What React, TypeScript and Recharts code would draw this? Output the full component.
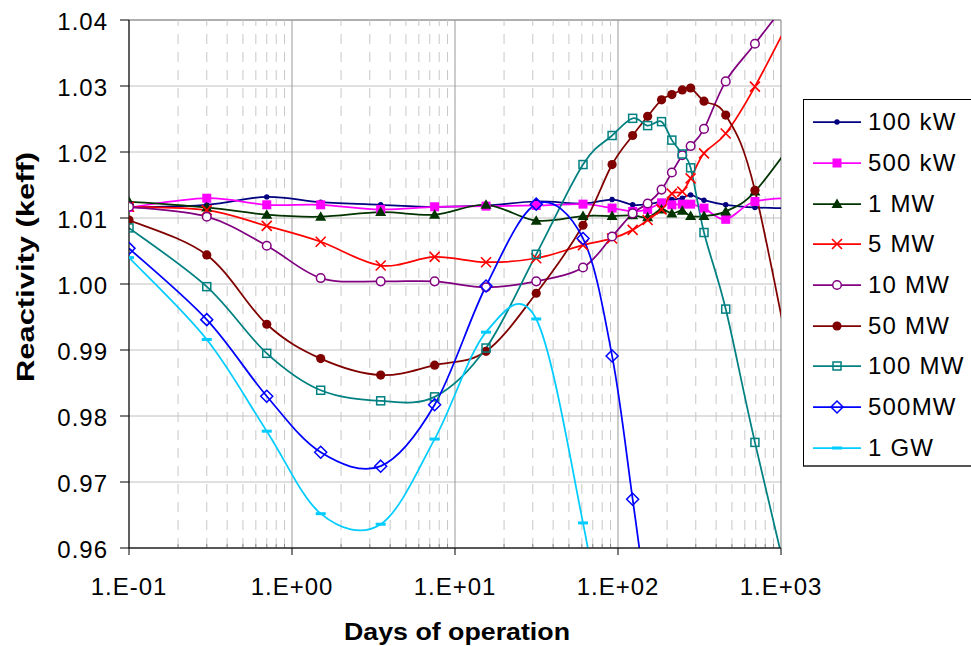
import React from "react";
import {
  LineChart,
  Line,
  XAxis,
  YAxis,
  CartesianGrid,
  ReferenceLine,
  ReferenceArea,
  Legend,
} from "recharts";

const FONT = "'Liberation Sans', Arial, Helvetica, sans-serif";

// sample times (days) shared by all series; last one lies past the axis end
const DAYS = [0.1, 0.3, 0.7, 1.5, 3.5, 7.5, 15.5, 31.5, 61, 92, 123, 152, 185, 214, 248, 279, 337, 458, 692, 1400];

const KW100 = [1.0116, 1.012, 1.0132, 1.0124, 1.012, 1.0117, 1.0119, 1.0125, 1.0122, 1.0128, 1.012, 1.0121, 1.0125, 1.0128, 1.013, 1.0135, 1.0127, 1.012, 1.0116, 1.0114];
const KW500 = [1.0116, 1.013, 1.012, 1.012, 1.0113, 1.0117, 1.0118, 1.0119, 1.0121, 1.0115, 1.011, 1.0113, 1.0123, 1.012, 1.0121, 1.0121, 1.0115, 1.0098, 1.0125, 1.0131];
const MW1 = [1.0125, 1.0116, 1.0105, 1.0102, 1.0109, 1.0105, 1.012, 1.0096, 1.0103, 1.0103, 1.0104, 1.0101, 1.0113, 1.0107, 1.0111, 1.0103, 1.0103, 1.011, 1.014, 1.024];
const MW5 = [1.0117, 1.0112, 1.0088, 1.0064, 1.0028, 1.0041, 1.0033, 1.0039, 1.0059, 1.0069, 1.0082, 1.0097, 1.0113, 1.0137, 1.014, 1.016, 1.0198, 1.0228, 1.0299, 1.0445];
const MW10 = [1.0117, 1.0102, 1.0058, 1.0009, 1.0004, 1.0004, 0.9995, 1.0004, 1.0025, 1.0072, 1.0107, 1.0122, 1.0143, 1.0169, 1.0195, 1.0209, 1.0235, 1.0307, 1.0364, 1.0462];
const MW50 = [1.0097, 1.0044, 0.9939, 0.9887, 0.9862, 0.9877, 0.9898, 0.9986, 1.0089, 1.0181, 1.0225, 1.0254, 1.0279, 1.0287, 1.0294, 1.0297, 1.0277, 1.0256, 1.0142, 0.977];
const MW100 = [1.0085, 0.9996, 0.9895, 0.9839, 0.9823, 0.9829, 0.9903, 1.0045, 1.0181, 1.0225, 1.0251, 1.024, 1.0246, 1.0218, 1.0197, 1.0176, 1.0078, 0.9962, 0.976, 0.944];
const MW500 = [1.0054, 0.9946, 0.983, 0.9745, 0.9724, 0.9817, 0.9997, 1.0121, 1.0069, 0.9891, 0.9674, 0.9506, null, null, null, null, null, null, null, null];
const GW1 = [1.004, 0.9916, 0.9777, 0.9652, 0.9636, 0.9765, 0.9927, 0.9947, 0.9638, 0.938, null, null, null, null, null, null, null, null, null, null];

const X_TICKS = [0.1, 1, 10, 100, 1000];
const X_TICK_LABELS = ["1.E-01", "1.E+00", "1.E+01", "1.E+02", "1.E+03"];
const Y_TICKS = [0.96, 0.97, 0.98, 0.99, 1.0, 1.01, 1.02, 1.03, 1.04];

const SERIES = [
  { name: "100 kW", values: KW100, color: "#000080", marker: "dot" },
  { name: "500 kW", values: KW500, color: "#FF00FF", marker: "square" },
  { name: "1 MW", values: MW1, color: "#003300", marker: "triangle" },
  { name: "5 MW", values: MW5, color: "#FF0000", marker: "cross" },
  { name: "10 MW", values: MW10, color: "#800080", marker: "circle" },
  { name: "50 MW", values: MW50, color: "#800000", marker: "disc" },
  { name: "100 MW", values: MW100, color: "#008080", marker: "openSquare" },
  { name: "500MW", values: MW500, color: "#0000FF", marker: "diamond" },
  { name: "1 GW", values: GW1, color: "#00CCFF", marker: "dash" },
];

// minor (2..9) positions inside each decade, for the dashed grid
const MINOR_X = [0.1, 1, 10, 100].flatMap((d) => [2, 3, 4, 5, 6, 7, 8, 9].map((m) => +(d * m).toPrecision(3)));
const MAJOR_X = [1, 10, 100];

// Excel-like smoothed line (Catmull-Rom through every point)
function excelCurve(context: any) {
  let pts: number[][] = [];
  return {
    areaStart() {},
    areaEnd() {},
    lineStart() {
      pts = [];
    },
    point(x: number, y: number) {
      pts.push([+x, +y]);
    },
    lineEnd() {
      const n = pts.length;
      if (!n) return;
      context.moveTo(pts[0][0], pts[0][1]);
      for (let i = 0; i < n - 1; i++) {
        const p0 = pts[Math.max(i - 1, 0)];
        const p1 = pts[i];
        const p2 = pts[i + 1];
        const p3 = pts[Math.min(i + 2, n - 1)];
        context.bezierCurveTo(
          p1[0] + (p2[0] - p0[0]) / 6,
          p1[1] + (p2[1] - p0[1]) / 6,
          p2[0] - (p3[0] - p1[0]) / 6,
          p2[1] - (p3[1] - p1[1]) / 6,
          p2[0],
          p2[1]
        );
      }
    },
  };
}

function Marker({ kind, x, y, color }: { kind: string; x: number; y: number; color: string }) {
  switch (kind) {
    case "dot":
      return <circle cx={x} cy={y} r={2.7} fill={color} />;
    case "square":
      return <rect x={x - 4.5} y={y - 4.5} width={9} height={9} fill={color} />;
    case "triangle":
      return <polygon points={`${x},${y - 5.5} ${x + 5.5},${y + 4} ${x - 5.5},${y + 4}`} fill={color} />;
    case "cross":
      return (
        <path d={`M${x - 5},${y - 5}L${x + 5},${y + 5}M${x - 5},${y + 5}L${x + 5},${y - 5}`} stroke={color} strokeWidth={1.6} />
      );
    case "circle":
      return <circle cx={x} cy={y} r={4.3} fill="#fff" stroke={color} strokeWidth={1.5} />;
    case "disc":
      return <circle cx={x} cy={y} r={4.6} fill={color} />;
    case "openSquare":
      return <rect x={x - 4} y={y - 4} width={8} height={8} fill="none" stroke={color} strokeWidth={1.5} />;
    case "diamond":
      return (
        <polygon points={`${x},${y - 6} ${x + 6},${y} ${x},${y + 6} ${x - 6},${y}`} fill="none" stroke={color} strokeWidth={1.5} />
      );
    case "dash":
      return <rect x={x - 5} y={y - 1.5} width={10} height={3} fill={color} />;
    default:
      return null;
  }
}

const XTick = ({ x, y, index }: any) => (
  <text x={x} y={y + 40} textAnchor="middle" fontSize={24} letterSpacing={1} fontFamily={FONT} fill="#000">
    {X_TICK_LABELS[index]}
  </text>
);

const YTick = ({ x, y, payload }: any) => (
  <text x={x - 12} y={y + 10} textAnchor="end" fontSize={24} letterSpacing={1} fontFamily={FONT} fill="#000">
    {Number(payload.value).toFixed(2)}
  </text>
);

const XTitle = ({ viewBox }: any) => (
  <text
    x={viewBox.x + viewBox.width / 2 + 2}
    y={viewBox.y + 92}
    textAnchor="middle"
    fontSize={23}
    fontWeight="bold"
    fontFamily={FONT}
    textLength={226}
    lengthAdjust="spacingAndGlyphs"
  >
    Days of operation
  </text>
);

const YTitle = ({ viewBox }: any) => {
  const cx = 34;
  const cy = viewBox.y + viewBox.height / 2 - 17;
  return (
    <text
      x={cx}
      y={cy}
      transform={`rotate(-90 ${cx} ${cy})`}
      textAnchor="middle"
      fontSize={23}
      fontWeight="bold"
      fontFamily={FONT}
      textLength={230}
      lengthAdjust="spacingAndGlyphs"
    >
      Reactivity (keff)
    </text>
  );
};

const renderLegend = () => (
  <div
    style={{
      borderLeft: "1px solid #000",
      borderTop: "1px solid #000",
      borderBottom: "2px solid #555",
      background: "#fff",
      width: 168,
      height: 368,
      boxSizing: "border-box",
      paddingTop: 2,
      fontFamily: FONT,
      overflow: "hidden",
    }}
  >
    {SERIES.map((s) => (
      <div key={s.name} style={{ display: "flex", alignItems: "center", height: 40.7 }}>
        <svg width={60} height={20} style={{ flex: "none" }}>
          <line x1={9} x2={57} y1={10} y2={10} stroke={s.color} strokeWidth={1.75} />
          <Marker kind={s.marker} x={33} y={10} color={s.color} />
        </svg>
        <span style={{ fontSize: 24, letterSpacing: 1.2, marginLeft: 4, color: "#000", whiteSpace: "nowrap" }}>{s.name}</span>
      </div>
    ))}
  </div>
);

export default function App() {
  const lines = SERIES.map((s) => ({
    ...s,
    rows: DAYS.map((d, i) => ({ day: d, v: s.values[i] })).filter((r) => r.v != null),
  }));

  return (
    <div style={{ position: "absolute", left: 0, top: 0, width: 971, height: 646, overflow: "hidden", background: "#fff" }}>
      <LineChart width={971} height={646} margin={{ top: 20, right: 190, bottom: 0, left: 0 }}>
        <CartesianGrid vertical={false} stroke="#c0c0c0" />
        {MINOR_X.map((v) => (
          <ReferenceLine key={`m${v}`} x={v} stroke="#c8c8c8" strokeDasharray="10 8" />
        ))}
        {MAJOR_X.map((v) => (
          <ReferenceLine key={`M${v}`} x={v} stroke="#999" />
        ))}
        {MINOR_X.map((v) => (
          <ReferenceLine
            key={`t${v}`}
            segment={[
              { x: v, y: 0.96 },
              { x: v, y: 0.9606 },
            ]}
            stroke="#888"
          />
        ))}
        <ReferenceArea x1={0.1} x2={1000} y1={0.96} y2={1.04} fill="none" stroke="#808080" />
        <XAxis
          dataKey="day"
          type="number"
          scale="log"
          domain={[0.1, 1000]}
          allowDataOverflow
          ticks={X_TICKS}
          interval={0}
          height={98}
          tickSize={7}
          tickMargin={0}
          tick={<XTick />}
          axisLine={{ stroke: "#000" }}
          tickLine={{ stroke: "#000" }}
          label={{ content: <XTitle /> }}
        />
        <YAxis
          type="number"
          domain={[0.96, 1.04]}
          allowDataOverflow
          ticks={Y_TICKS}
          interval={0}
          width={129}
          tickSize={9}
          tickMargin={0}
          tick={<YTick />}
          axisLine={{ stroke: "#000" }}
          tickLine={{ stroke: "#000" }}
          label={{ content: <YTitle /> }}
        />
        {lines.map((s) => (
          <Line
            key={s.name}
            name={s.name}
            data={s.rows}
            dataKey="v"
            type={excelCurve as any}
            stroke={s.color}
            strokeWidth={1.75}
            isAnimationActive={false}
            activeDot={false}
            dot={(p: any) => <Marker key={`${s.name}-${p.index}`} kind={s.marker} x={p.cx} y={p.cy} color={s.color} />}
          />
        ))}
        <Legend
          layout="vertical"
          align="center"
          verticalAlign="middle"
          content={renderLegend}
          wrapperStyle={{ left: 803, top: 99, width: 168, height: 368 }}
        />
      </LineChart>
    </div>
  );
}
